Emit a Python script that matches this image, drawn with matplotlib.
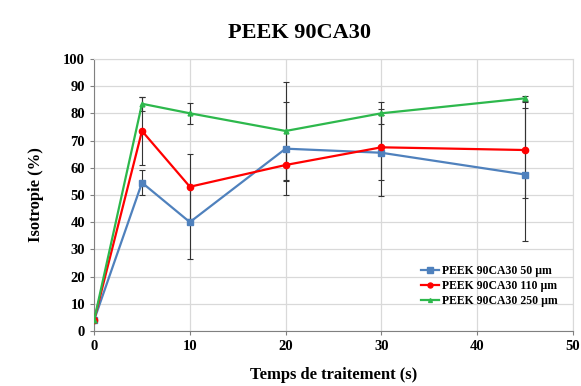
import numpy as np
import matplotlib.pyplot as plt

plt.rcParams['font.family'] = ['Liberation Serif', 'DejaVu Serif']

# data
temps = [0, 5, 10, 20, 30, 45]
iso_50 = [4, 54.5, 40, 67, 65.5, 57.5]
err_50 = [0.5, 4.5, 13.5, 17, 16, 24.5]
iso_110 = [4, 73.5, 53, 61, 67.5, 66.5]
err_110 = [0.5, 12.5, 12, 6, 12, 17.5]
iso_250 = [4, 83.5, 80, 73.5, 80, 85.5]
err_250 = [0.5, 2.5, 3.8, 18, 4, 1]
labels = ["PEEK 90CA30 50 µm", "PEEK 90CA30 110 µm", "PEEK 90CA30 250 µm"]

fig = plt.figure(figsize=(5.81, 3.86), dpi=100)
ax = fig.add_axes([0.162, 0.1425, 0.824, 0.705])

series = [
    (iso_50, err_50, "#4F81BD", "s", 5),
    (iso_110, err_110, "#FF0000", "o", 4.5),
    (iso_250, err_250, "#2DB84C", "^", 3.5),
]
for (vals, errs, col, mk, ms), lab in zip(series, labels):
    ax.errorbar(temps, vals, yerr=errs, fmt="none", ecolor="#333333",
                elinewidth=0.8, capsize=2, capthick=0.8, zorder=2)
    ax.plot(temps, vals, color=col, marker=mk, markersize=ms, lw=1.6,
            label=lab, zorder=3)

ax.set_xlim(0, 50)
ax.set_ylim(0, 100)
ax.set_xticks(np.arange(0, 51, 10))
ax.set_yticks(np.arange(0, 101, 10))
ax.grid(True, color="#D9D9D9", lw=0.9)
ax.set_axisbelow(True)
for s in ["top", "right"]:
    ax.spines[s].set_color("#D9D9D9")
for s in ["left", "bottom"]:
    ax.spines[s].set_color("#808080")
ax.tick_params(axis="both", labelsize=10.5, length=3, color="#808080")
for t in ax.get_xticklabels() + ax.get_yticklabels():
    t.set_fontweight("bold")

ax.set_xlabel("Temps de traitement (s)", fontsize=12, fontweight="bold", labelpad=10)
ax.set_ylabel("Isotropie (%)", fontsize=12, fontweight="bold", labelpad=14)
fig.text(0.516, 0.915, "PEEK 90CA30", fontsize=16, fontweight="bold",
         ha="center", va="center")

ax.legend(loc="lower right", bbox_to_anchor=(0.99, 0.05), frameon=False,
          prop={"weight": "bold", "size": 8.5}, handlelength=1.6,
          handletextpad=0.2, labelspacing=0.25, markerscale=0.8)

fig.savefig("out.png", dpi=100)
